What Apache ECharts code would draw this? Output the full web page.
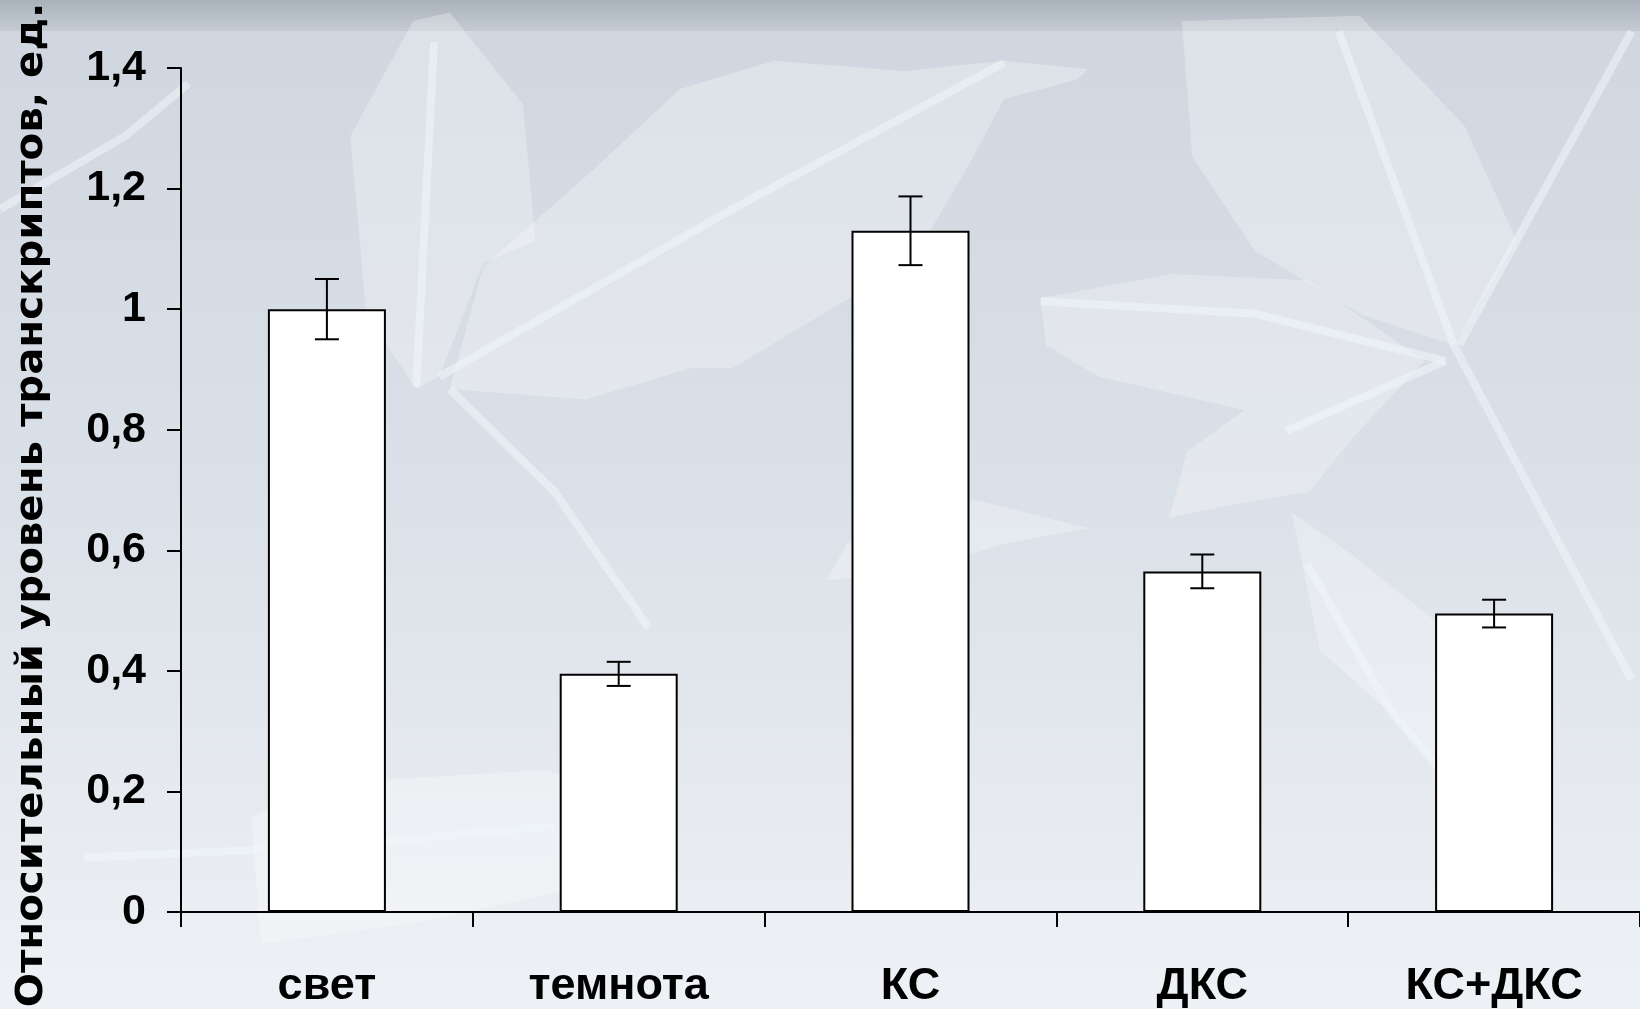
<!DOCTYPE html>
<html>
<head>
<meta charset="utf-8">
<script src="https://cdn.jsdelivr.net/npm/echarts@6/dist/echarts.min.js"></script>
<style>
  html, body { margin: 0; padding: 0; background: #dfe4eb; }
  #chart { width: 1640px; height: 1009px; }
</style>
</head>
<body>
<div id="chart"></div>
<script>
// Relative transcript level by treatment
const categories = ['свет', 'темнота', 'КС', 'ДКС', 'КС+ДКС'];
const values = [1.0, 0.395, 1.13, 0.565, 0.495];
const errors = [0.05, 0.02, 0.057, 0.028, 0.023];
const yTicks = [0, 0.2, 0.4, 0.6, 0.8, 1, 1.2, 1.4];
const yTitle = 'Относительный уровень транскриптов, ед.';

const errorData = values.map((v, i) => [i, v - errors[i], v + errors[i]]);

// decorative leaf silhouettes in the backdrop (page coordinates)
const S = 1640 / 1568;
const pts = arr => arr.map(p => [p[0] * S, p[1] * S]);
const leaves = [
  [[335,130],[395,20],[430,12],[500,100],[512,230],[462,252],[420,360],[398,372],[350,300]],
  [[462,255],[570,160],[650,85],[740,58],[865,68],[960,58],[1040,66],[1030,76],[960,95],[925,160],[872,250],[800,292],[700,352],[660,352],[560,382],[430,372]],
  [[995,285],[1120,262],[1250,268],[1362,345],[1292,420],[1252,470],[1180,482],[1118,495],[1135,432],[1190,392],[1050,360],[1000,330]],
  [[1235,490],[1292,530],[1380,600],[1432,682],[1382,742],[1330,682],[1262,622]],
  [[240,782],[300,750],[520,736],[640,770],[540,852],[400,882],[250,902]],
  [[810,520],[900,470],[1040,505],[960,520],[880,545],[790,555]],
  [[1130,20],[1300,15],[1400,120],[1450,230],[1390,330],[1300,300],[1200,240],[1140,150]]
];
const veins = [
  [[415,40],[398,370]],
  [[430,372],[530,470],[620,600]],
  [[420,360],[700,200],[960,60]],
  [[1280,30],[1390,330],[1560,650]],
  [[1395,330],[1560,30]],
  [[995,288],[1200,300],[1382,345]],
  [[1230,412],[1382,345]],
  [[80,820],[300,810],[530,790]],
  [[1250,540],[1330,680],[1380,740]],
  [[0,200],[120,130],[180,80]]
];

const graphicEls = [
  {
    type: 'rect', z: -20, silent: true,
    shape: { x: 0, y: 0, width: 1640, height: 31 },
    style: { fill: { type: 'linear', x: 0, y: 0, x2: 0, y2: 1,
      colorStops: [{ offset: 0, color: '#a9b1bb' }, { offset: 1, color: '#c4cbd3' }] } }
  }
];
leaves.forEach(l => graphicEls.push({
  type: 'polygon', z: -15, silent: true,
  shape: { points: pts(l) },
  style: { fill: 'rgba(255,255,255,0.28)' }
}));
veins.forEach(v => graphicEls.push({
  type: 'polyline', z: -14, silent: true,
  shape: { points: pts(v) },
  style: { stroke: 'rgba(242,247,252,0.5)', lineWidth: 8, fill: null }
}));
graphicEls.push({
  type: 'text', z: 20, silent: true,
  x: 32, y: 505, rotation: Math.PI / 2, scaleX: 1.06,
  style: {
    text: yTitle,
    font: 'bold 38px "DejaVu Sans"',
    fill: '#000',
    align: 'center',
    verticalAlign: 'middle'
  }
});

const chart = echarts.init(document.getElementById('chart'), null, { renderer: 'canvas' });
chart.setOption({
  animation: false,
  backgroundColor: {
    type: 'linear', x: 0, y: 0, x2: 0, y2: 1,
    colorStops: [
      { offset: 0, color: '#cfd6df' },
      { offset: 0.5, color: '#dbe1e8' },
      { offset: 1, color: '#eef1f5' }
    ]
  },
  graphic: { elements: graphicEls },
  grid: { left: 181, top: 68, width: 1462, height: 845, containLabel: false },
  xAxis: {
    type: 'category',
    data: categories,
    boundaryGap: true,
    axisLine: { lineStyle: { color: '#000', width: 2 } },
    axisTick: { show: true, length: 15, lineStyle: { color: '#000', width: 2 } },
    axisLabel: {
      margin: 52,
      color: '#000',
      fontFamily: '"Liberation Sans", Arial, sans-serif',
      fontWeight: 'bold',
      fontSize: 45
    },
    splitLine: { show: false }
  },
  yAxis: {
    type: 'value',
    min: 0, max: 1.4, interval: 0.2,
    axisLine: { show: true, lineStyle: { color: '#000', width: 2 } },
    axisTick: { show: true, length: 14, lineStyle: { color: '#000', width: 2 } },
    axisLabel: {
      margin: 35,
      color: '#000',
      fontFamily: '"Liberation Sans", Arial, sans-serif',
      fontWeight: 'bold',
      fontSize: 43,
      formatter: v => {
        const t = yTicks.find(k => Math.abs(k - v) < 1e-9);
        return String(t !== undefined ? t : v).replace('.', ',');
      }
    },
    splitLine: { show: false }
  },
  series: [
    {
      type: 'bar',
      data: values,
      barWidth: 118,
      itemStyle: { color: '#ffffff', borderColor: '#000', borderWidth: 2 },
      z: 2
    },
    {
      type: 'custom',
      data: errorData,
      z: 3,
      renderItem: (params, api) => {
        const x = api.value(0);
        const lo = api.coord([x, api.value(1)]);
        const hi = api.coord([x, api.value(2)]);
        const half = 12;
        const st = { stroke: '#000', lineWidth: 2 };
        return {
          type: 'group',
          children: [
            { type: 'line', shape: { x1: lo[0], y1: lo[1], x2: hi[0], y2: hi[1] }, style: st },
            { type: 'line', shape: { x1: hi[0] - half, y1: hi[1], x2: hi[0] + half, y2: hi[1] }, style: st },
            { type: 'line', shape: { x1: lo[0] - half, y1: lo[1], x2: lo[0] + half, y2: lo[1] }, style: st }
          ]
        };
      }
    }
  ]
});
</script>
</body>
</html>
